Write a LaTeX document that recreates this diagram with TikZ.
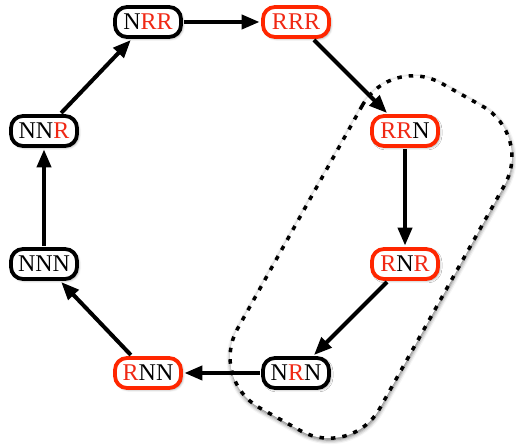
\documentclass[tikz,border=0pt]{standalone}
\usepackage{fontspec}
\setmainfont{Liberation Serif}
\usetikzlibrary{arrows.meta,shadows.blur}
\definecolor{myred}{RGB}{255,38,0}
\definecolor{txtred}{RGB}{240,40,20}
\newcommand{\Rr}{\textcolor{txtred}{R}}
\begin{document}
\begin{tikzpicture}[x=1pt,y=1pt,
  state/.style={draw, line width=3.8pt, rounded corners=12pt, minimum width=66pt,
    minimum height=30pt, inner sep=0pt, fill=white, font=\fontsize{24}{24}\selectfont,
    blur shadow={shadow xshift=1.5pt, shadow yshift=-1.5pt, shadow blur radius=2.5pt, shadow opacity=45}},
  redstate/.style={state, draw=myred},
  arr/.style={line width=4pt, -{Triangle[length=18pt,width=14pt]}, shorten >=1.5pt, shorten <=1.5pt},
  group/.style={draw, line width=3.5pt, dash pattern=on 4.5pt off 7pt, rounded corners=58pt,
    fill=white, minimum width=372pt, minimum height=163pt, rotate=60.8,
    blur shadow={shadow xshift=0.5pt, shadow yshift=-2pt, shadow blur radius=4pt, shadow opacity=60}}]
\useasboundingbox (0,0) rectangle (516,446);
\node[group] (grp) at (371,189) {};
\node[state]    (NRR) at (148,424) {N\Rr\Rr};
\node[redstate] (RRR) at (296,424) {\Rr\Rr\Rr};
\node[redstate] (RRN) at (405,315) {\Rr\Rr N};
\node[redstate] (RNR) at (405,182) {\Rr N\Rr};
\node[state]    (NRN) at (296,73)  {N\Rr N};
\node[redstate] (RNN) at (148,73)  {\Rr NN};
\node[state]    (NNN) at (44,182)  {NNN};
\node[state]    (NNR) at (44,315)  {NN\Rr};
\draw[arr] (NRR) -- (RRR);
\draw[arr] (RRR) -- (RRN);
\draw[arr] (RRN) -- (RNR);
\draw[arr] (RNR) -- (NRN);
\draw[arr] (NRN) -- (RNN);
\draw[arr] (RNN) -- (NNN);
\draw[arr] (NNN) -- (NNR);
\draw[arr] (NNR) -- (NRR);
\end{tikzpicture}
\end{document}
